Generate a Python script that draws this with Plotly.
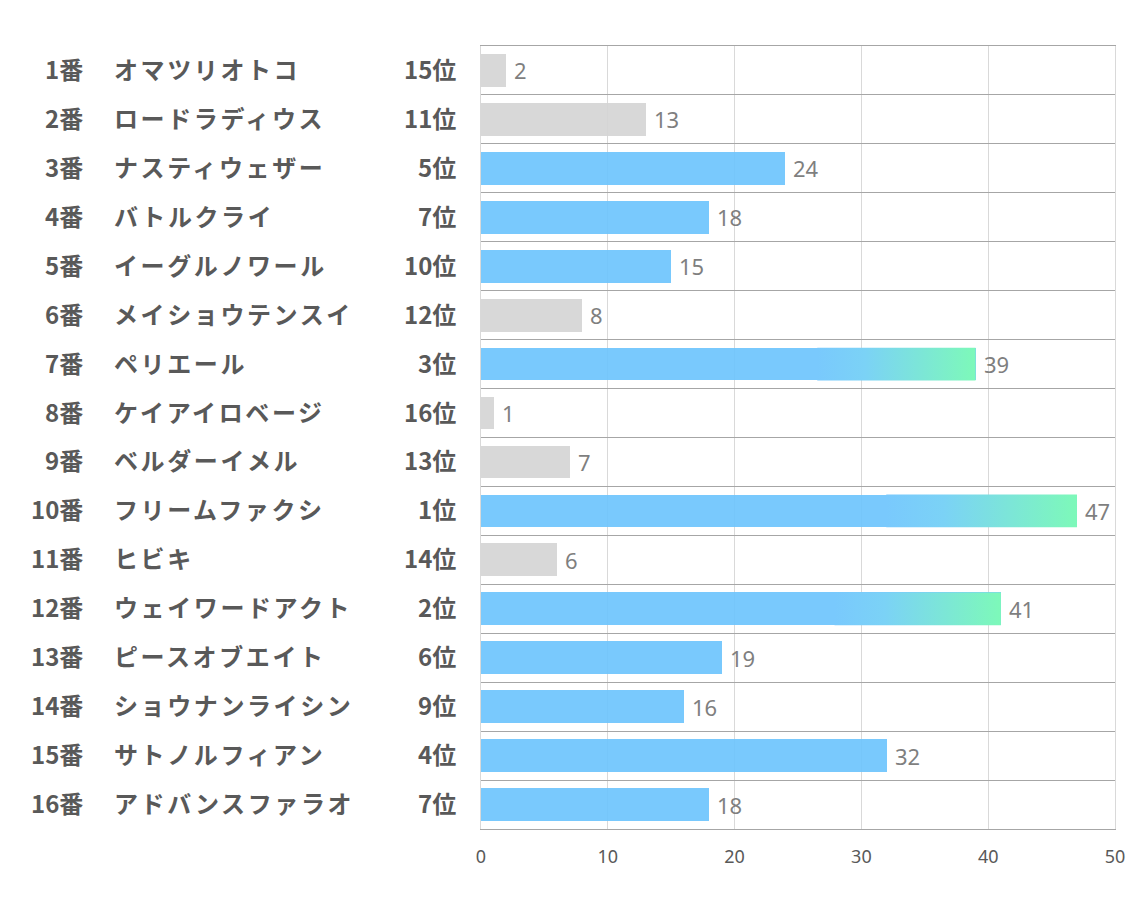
import plotly.graph_objects as go

nums = ["1番", "2番", "3番", "4番", "5番", "6番", "7番", "8番", "9番", "10番",
        "11番", "12番", "13番", "14番", "15番", "16番"]
names = ["オマツリオトコ", "ロードラディウス", "ナスティウェザー", "バトルクライ",
         "イーグルノワール", "メイショウテンスイ", "ペリエール", "ケイアイロベージ",
         "ベルダーイメル", "フリームファクシ", "ヒビキ", "ウェイワードアクト",
         "ピースオブエイト", "ショウナンライシン", "サトノルフィアン", "アドバンスファラオ"]
ranks = [15, 11, 5, 7, 10, 12, 3, 16, 13, 1, 14, 2, 6, 9, 4, 7]
values = [2, 13, 24, 18, 15, 8, 39, 1, 7, 47, 6, 41, 19, 16, 32, 18]
x_ticks = [0, 10, 20, 30, 40, 50]

BLUE = "rgba(106,195,253,0.9)"
GRAY = "rgba(212,212,212,0.9)"
BLUE_SOLID = "#79C9FD"
GREEN = "#7DF9B9"
BAR_W = 0.67
GRAD_START = 0.68
TEXT = "#595959"
FONT = "Noto Sans CJK JP"

# page geometry (the page body adds an 8px offset)
OFF = 8
L, R, T, B = 481, 1115, 46, 829.5
W, H = 1134 - OFF, 907 - OFF

ypos = list(range(len(values)))
colors = [BLUE if r <= 10 else GRAY for r in ranks]

fig = go.Figure()
fig.add_trace(go.Bar(
    x=values, y=ypos, orientation="h", width=BAR_W,
    marker=dict(color=colors, line=dict(width=0)),
    hoverinfo="skip",
))

# gradient overlays for the top 3
for i, (v, r) in enumerate(zip(values, ranks)):
    if r <= 3:
        x0 = v * GRAD_START
        h = BAR_W / 2
        fig.add_trace(go.Scatter(
            x=[x0, v, v, x0, x0], y=[i - h, i - h, i + h, i + h, i - h],
            mode="lines", line=dict(width=0), fill="toself",
            fillgradient=dict(type="horizontal",
                              colorscale=[[0, BLUE_SOLID], [0.3, "#7BD2F6"], [1, GREEN]]),
            hoverinfo="skip", showlegend=False,
        ))

def px_to_dom(px):
    return (px - L) / (R - L)

annotations = []
bold = dict(family=FONT, size=24, color=TEXT, weight="bold")
for i in ypos:
    annotations.append(dict(x=px_to_dom(85), y=i, xref="x domain", yref="y", text=nums[i],
                            showarrow=False, xanchor="right", yanchor="middle", yshift=2,
                            font=bold))
    annotations.append(dict(x=px_to_dom(112), y=i, xref="x domain", yref="y",
                            text=f'<span style="letter-spacing:2.6px">{names[i]}</span>',
                            showarrow=False, xanchor="left", yanchor="middle", yshift=2,
                            font=bold))
    annotations.append(dict(x=px_to_dom(458), y=i, xref="x domain", yref="y", text=f"{ranks[i]}位",
                            showarrow=False, xanchor="right", yanchor="middle", yshift=2,
                            font=bold))
    annotations.append(dict(x=values[i], y=i, xref="x", yref="y", text=str(values[i]),
                            showarrow=False, xanchor="left", yanchor="middle", xshift=6,
                            font=dict(family="Noto Sans, sans-serif", size=22, color="#7F7F7F")))

fig.update_layout(
    width=W, height=H,
    margin=dict(l=L - OFF, r=1134 - R, t=T - OFF, b=H + OFF - B, autoexpand=False),
    paper_bgcolor="white", plot_bgcolor="white",
    showlegend=False, bargap=0,
    annotations=annotations,
    xaxis=dict(range=[0, 50], tickvals=x_ticks, showgrid=True, gridcolor="#D9D9D9",
               gridwidth=1, zeroline=False, showline=True, mirror=True,
               linecolor="#A6A6A6", linewidth=1.3, ticks="", ticklabelstandoff=11,
               tickfont=dict(family="Noto Sans, sans-serif", size=18, color=TEXT),
               fixedrange=True),
    yaxis=dict(range=[len(values) - 0.5, -0.5], showticklabels=False,
               tickvals=[k - 0.5 for k in range(len(values) + 1)],
               showgrid=True, gridcolor="#A6A6A6", gridwidth=1.3,
               zeroline=False, showline=True, mirror=True, linecolor="#D9D9D9",
               linewidth=1, ticks="", fixedrange=True),
)

fig.write_html("out.html")
